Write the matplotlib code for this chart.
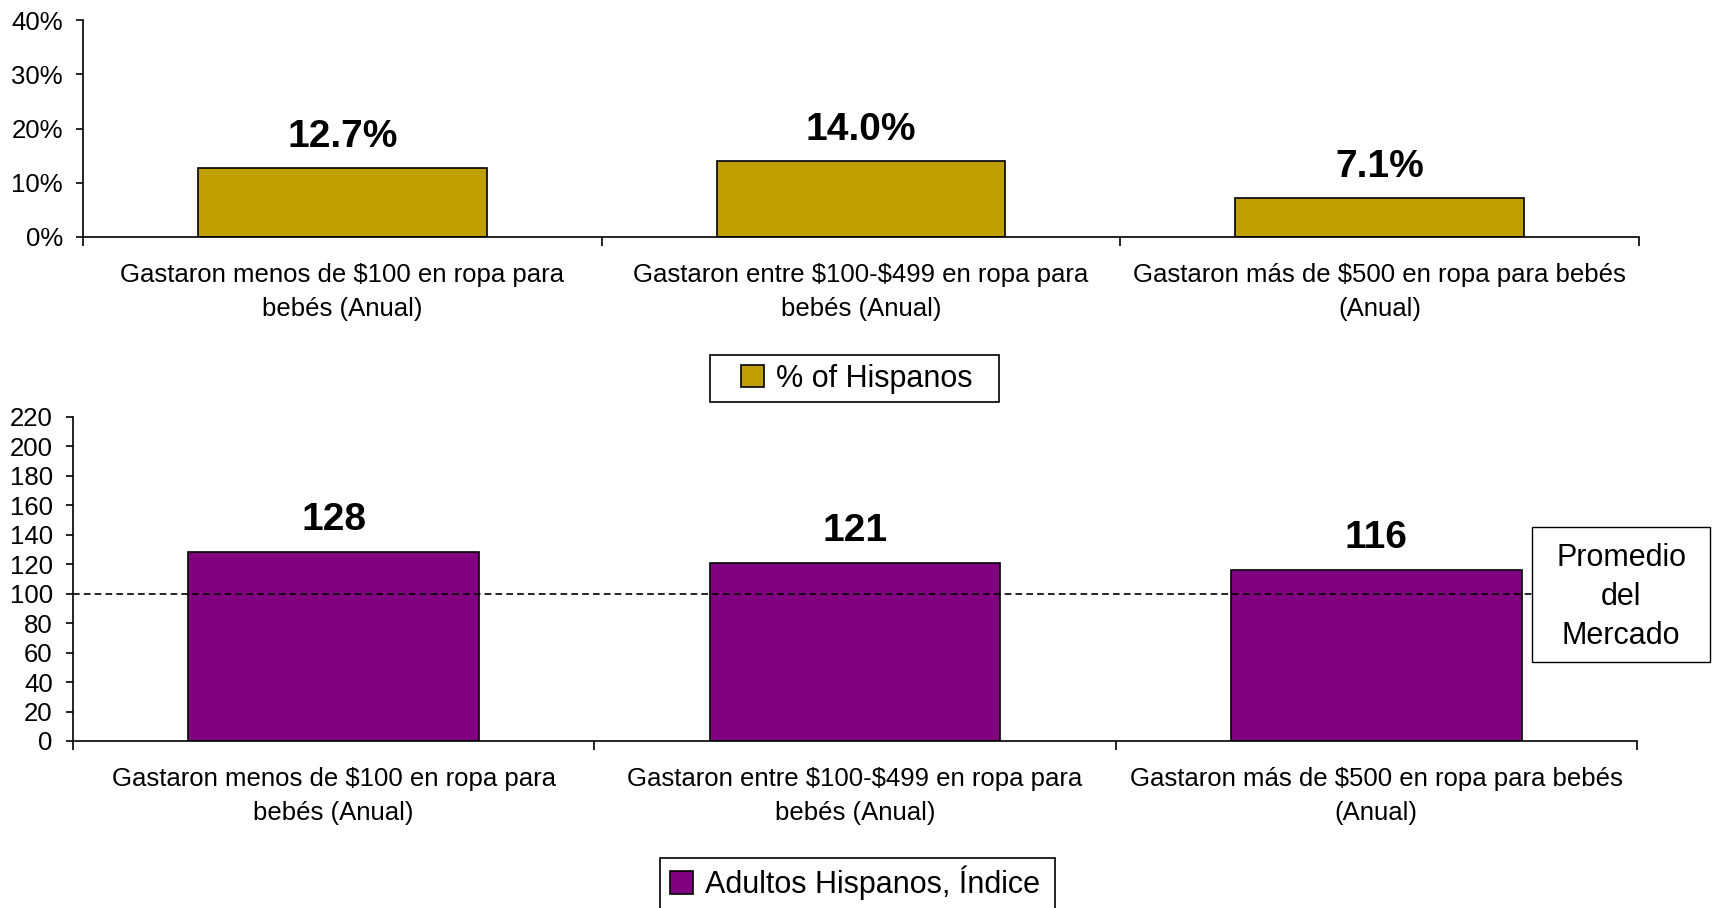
import matplotlib
matplotlib.use("Agg")
import numpy as np
from matplotlib import pyplot as plt
from matplotlib.patches import Rectangle

plt.rcParams['font.family'] = ['Liberation Sans', 'DejaVu Sans']

categorias = ['Gastaron menos de \\$100 en ropa para\nbebés (Anual)',
              'Gastaron entre \\$100-\\$499 en ropa para\nbebés (Anual)',
              'Gastaron más de \\$500 en ropa para bebés\n(Anual)']
pct_hispanos = [12.7, 14.0, 7.1]
indice_adultos = [128, 121, 116]
promedio = 100

ORO = '#C0A000'
MORADO = '#800080'
TFS = 18.5   # ticks / categorias
VFS = 28     # etiquetas de valor
LFS = 22     # leyendas
W, H = 1717, 908

fig = plt.figure(figsize=(W / 100, H / 100), dpi=100)
ax1 = fig.add_axes([83/W, 1-237/H, (1639-83)/W, (237-20)/H])
ax2 = fig.add_axes([73/W, 1-741/H, (1637-73)/W, (741-417)/H])

x = np.arange(len(categorias))


def estilo(ax, ymax, ystep, fmt):
    for s in ['top', 'right']:
        ax.spines[s].set_visible(False)
    for s in ['left', 'bottom']:
        ax.spines[s].set_linewidth(1.2)
    ax.set_xlim(-0.5, len(categorias) - 0.5)
    ax.set_ylim(0, ymax)
    ax.set_yticks(np.arange(0, ymax + ystep / 2, ystep))
    ax.set_yticklabels([fmt(v) for v in np.arange(0, ymax + ystep / 2, ystep)], fontsize=TFS)
    ax.tick_params(axis='y', direction='out', length=5, width=1.2, pad=9.5)
    # separadores entre categorias
    ax.set_xticks(np.arange(-0.5, len(categorias), 1.0))
    ax.set_xticklabels([])
    ax.tick_params(axis='x', which='major', direction='out', length=6.5, width=1.2)
    ax.set_xticks(x, minor=True)
    ax.set_xticklabels(categorias, minor=True, fontsize=TFS, linespacing=1.5)
    ax.tick_params(axis='x', which='minor', length=0, pad=19)


def caja(x0, y0, x1, y1, lw=1.2):
    # rectangulo en pixeles de la figura (origen arriba a la izquierda)
    fig.add_artist(Rectangle((x0/W, 1-y1/H), (x1-x0)/W, (y1-y0)/H,
                             transform=fig.transFigure, facecolor='white',
                             edgecolor='black', linewidth=lw, zorder=5))


# panel superior: % de hispanos
barras1 = ax1.bar(x, pct_hispanos, width=0.557, color=ORO, edgecolor='black',
                  linewidth=1.2, label='% of Hispanos', zorder=2)
estilo(ax1, 40, 10, lambda v: '%d%%' % v)
for xi, v in zip(x, pct_hispanos):
    ax1.annotate('%.1f%%' % v, (xi, v), xytext=(0, 31), textcoords='offset pixels',
                 ha='center', va='center', fontsize=VFS, fontweight='bold')

# panel inferior: indice
barras2 = ax2.bar(x, indice_adultos, width=0.557, color=MORADO, edgecolor='black',
                  linewidth=1.2, label='Adultos Hispanos, Índice', zorder=2)
ax2.axhline(promedio, color='black', linestyle=(0, (4, 2.5)), linewidth=1.2, zorder=3)
estilo(ax2, 220, 20, lambda v: '%d' % v)
for xi, v in zip(x, indice_adultos):
    ax2.annotate('%d' % v, (xi, v), xytext=(0, 32), textcoords='offset pixels',
                 ha='center', va='center', fontsize=VFS, fontweight='bold')

# caja "Promedio del Mercado"
caja(1532, 527, 1710, 662, lw=1.0)
fig.text(1621/W, 1-597/H, 'Promedio\ndel\nMercado', ha='center', va='center',
         fontsize=LFS, linespacing=1.38, zorder=6)

# leyendas con su marco
caja(710, 355, 999, 402)
caja(660, 858, 1055, 912)
for barras, cx, cy in [(barras1, 856.5, 378.5), (barras2, 855, 883)]:
    fig.legend(handles=[barras], loc='center', bbox_to_anchor=(cx/W, 1-cy/H),
               fontsize=LFS, frameon=False, handlelength=0.75, handleheight=0.75,
               handletextpad=0.4, borderpad=0.2, borderaxespad=0).set_zorder(7)

fig.savefig('out.png', dpi=100)
